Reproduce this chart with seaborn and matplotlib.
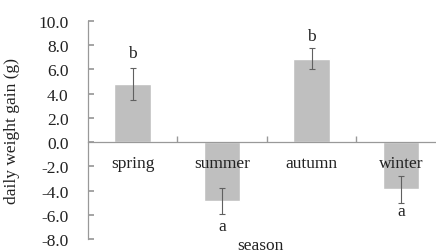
import numpy as np
import pandas as pd
import matplotlib
matplotlib.use("Agg")
import matplotlib.pyplot as plt
import seaborn as sns

seasons = ["spring", "summer", "autumn", "winter"]
gain = [4.8, -4.85, 6.9, -3.9]
err = [1.35, 1.05, 0.9, 1.1]
letters = ["b", "a", "b", "a"]
letter_y = [7.4, -6.9, 8.8, -5.7]
yticks = np.arange(-8, 10.1, 2)

sns.set_theme(style="white")
plt.rcParams['font.family'] = ['Liberation Serif', 'DejaVu Serif']
fs = 12.5

df = pd.DataFrame({"season": seasons, "gain": gain})

fig = plt.figure(figsize=(4.36, 2.53), dpi=100)
ax = fig.add_axes([0.202, 0.051, 0.82, 0.862])

sns.barplot(data=df, x="season", y="gain", color="#bfbfbf", saturation=1,
            width=0.41, errorbar=None, ax=ax)
ax.errorbar(range(len(seasons)), gain, yerr=err, fmt="none", ecolor="#606060",
            elinewidth=0.8, capsize=2.5, capthick=0.8)

for i, (t, yy) in enumerate(zip(letters, letter_y)):
    ax.text(i, yy, t, ha="center", va="center", fontsize=fs, color="#222222")

ax.set_ylim(-8, 10)
ax.set_xlim(-0.5, 3.5)
ax.set_yticks(yticks)
ax.set_yticklabels([f"{v:.1f}" for v in yticks], fontsize=fs)
ax.set_axisbelow(False)

for s in ["top", "right"]:
    ax.spines[s].set_visible(False)
ax.spines["bottom"].set_position(("data", 0))
for s in ["left", "bottom"]:
    ax.spines[s].set_color("#999999")
    ax.spines[s].set_linewidth(0.9)

ax.tick_params(axis="y", direction="in", length=4, color="#999999", left=True, pad=14,
               labelcolor="#222222")
ax.tick_params(axis="x", which="major", length=0, pad=9, labelsize=fs, labelcolor="#222222")
ax.set_xticks(np.arange(0.5, 3.5, 1), minor=True)
ax.tick_params(axis="x", which="minor", direction="in", length=4, color="#999999", bottom=True)

ax.set_xlabel("")
fig.text(260 / 436, 1 - 246 / 253, "season", ha="center", va="center", fontsize=fs,
         color="#222222")
ax.set_ylabel("daily weight gain (g)", fontsize=fs, color="#222222")
ax.yaxis.set_label_coords(-0.19, 0.5)

fig.savefig("out.png", dpi=100)
